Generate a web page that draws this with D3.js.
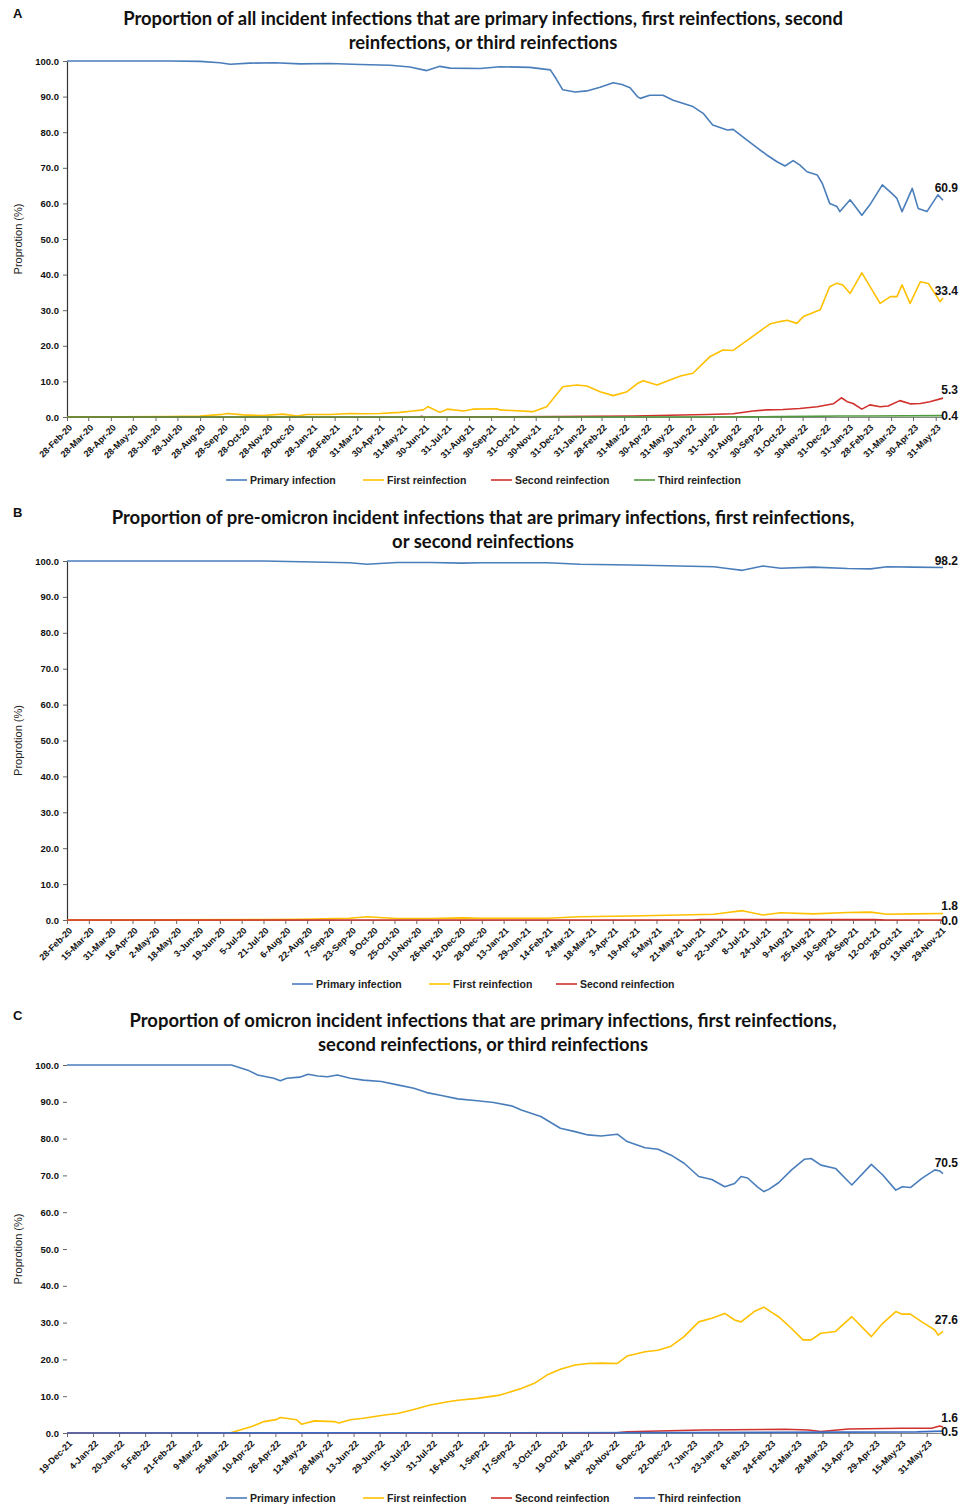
<!DOCTYPE html>
<html><head><meta charset="utf-8">
<script src="https://cdn.jsdelivr.net/npm/d3@7"></script>
<style>body{margin:0;background:#fff}svg{display:block}</style>
</head><body><svg id="chart" width="959" height="1507"></svg>
<script>
// ---------------- DATA ----------------
const seriesNames = ["Primary infection","First reinfection","Second reinfection","Third reinfection"];
const yTickValues = [0,10,20,30,40,50,60,70,80,90,100];

const titleA = ["Proportion of all incident infections that are primary infections, first reinfections, second","reinfections, or third reinfections"];
const titleB = ["Proportion of pre-omicron incident infections that are primary infections, first reinfections,","or second reinfections"];
const titleC = ["Proportion of omicron incident infections that are primary infections, first reinfections,","second reinfections, or third reinfections"];

const A_ticks = ["28-Feb-20","28-Mar-20","28-Apr-20","28-May-20","28-Jun-20","28-Jul-20","28-Aug-20","28-Sep-20","28-Oct-20","28-Nov-20","28-Dec-20","28-Jan-21","28-Feb-21","31-Mar-21","30-Apr-21","31-May-21","30-Jun-21","31-Jul-21","31-Aug-21","30-Sep-21","31-Oct-21","30-Nov-21","31-Dec-21","31-Jan-22","28-Feb-22","31-Mar-22","30-Apr-22","31-May-22","30-Jun-22","31-Jul-22","31-Aug-22","30-Sep-22","31-Oct-22","30-Nov-22","31-Dec-22","31-Jan-23","28-Feb-23","31-Mar-23","30-Apr-23","31-May-23"];
const B_ticks = ["28-Feb-20","15-Mar-20","31-Mar-20","16-Apr-20","2-May-20","18-May-20","3-Jun-20","19-Jun-20","5-Jul-20","21-Jul-20","6-Aug-20","22-Aug-20","7-Sep-20","23-Sep-20","9-Oct-20","25-Oct-20","10-Nov-20","26-Nov-20","12-Dec-20","28-Dec-20","13-Jan-21","29-Jan-21","14-Feb-21","2-Mar-21","18-Mar-21","3-Apr-21","19-Apr-21","5-May-21","21-May-21","6-Jun-21","22-Jun-21","8-Jul-21","24-Jul-21","9-Aug-21","25-Aug-21","10-Sep-21","26-Sep-21","12-Oct-21","28-Oct-21","13-Nov-21","29-Nov-21"];
const C_ticks = ["19-Dec-21","4-Jan-22","20-Jan-22","5-Feb-22","21-Feb-22","9-Mar-22","25-Mar-22","10-Apr-22","26-Apr-22","12-May-22","28-May-22","13-Jun-22","29-Jun-22","15-Jul-22","31-Jul-22","16-Aug-22","1-Sep-22","17-Sep-22","3-Oct-22","19-Oct-22","4-Nov-22","20-Nov-22","6-Dec-22","22-Dec-22","7-Jan-23","23-Jan-23","8-Feb-23","24-Feb-23","12-Mar-23","28-Mar-23","13-Apr-23","29-Apr-23","15-May-23","31-May-23"];

const A_range = ["2020-02-28","2023-06-10"];
const B_range = ["2020-02-28","2021-12-01"];
const C_range = ["2021-12-19","2023-06-10"];

// Panel A
const A_primary = [["2020-02-28",100],["2020-07-18",100],["2020-08-28",99.9],["2020-09-24",99.5],["2020-10-08",99.1],["2020-11-04",99.4],["2020-12-08",99.5],["2021-01-12",99.2],["2021-02-22",99.3],["2021-04-04",99.0],["2021-05-15",98.8],["2021-06-11",98.3],["2021-07-04",97.3],["2021-07-22",98.5],["2021-08-05",98.0],["2021-09-15",97.9],["2021-10-12",98.4],["2021-11-22",98.2],["2021-12-20",97.5],["2021-12-28",95.0],["2022-01-06",91.9],["2022-01-23",91.3],["2022-02-08",91.6],["2022-02-26",92.6],["2022-03-16",93.9],["2022-03-28",93.4],["2022-04-08",92.5],["2022-04-18",90.0],["2022-04-22",89.5],["2022-05-05",90.4],["2022-05-23",90.4],["2022-06-06",89.0],["2022-06-19",88.1],["2022-07-03",87.2],["2022-07-17",85.3],["2022-07-30",82.0],["2022-08-19",80.6],["2022-08-27",80.8],["2022-09-15",77.8],["2022-10-12",73.6],["2022-10-26",71.7],["2022-11-06",70.5],["2022-11-17",72.0],["2022-11-26",70.8],["2022-12-06",68.9],["2022-12-20",68.0],["2022-12-27",65.6],["2023-01-06",60.0],["2023-01-16",59.1],["2023-01-20",57.7],["2023-02-03",61.0],["2023-02-10",59.1],["2023-02-19",56.7],["2023-03-02",59.6],["2023-03-19",65.2],["2023-04-01",62.8],["2023-04-08",61.4],["2023-04-15",57.7],["2023-04-29",64.2],["2023-05-07",58.6],["2023-05-19",57.7],["2023-06-03",62.4],["2023-06-10",60.9]];
const A_first = [["2020-02-28",0],["2020-07-15",0.1],["2020-08-28",0.3],["2020-09-28",0.75],["2020-10-05",1.0],["2020-10-26",0.6],["2020-11-22",0.4],["2020-12-19",0.8],["2021-01-08",0.3],["2021-01-21",0.7],["2021-02-22",0.7],["2021-03-21",1.0],["2021-04-08",0.9],["2021-05-01",1.0],["2021-05-28",1.3],["2021-06-15",1.7],["2021-06-29",2.0],["2021-07-06",2.9],["2021-07-22",1.3],["2021-08-01",2.2],["2021-08-23",1.7],["2021-09-05",2.2],["2021-10-08",2.3],["2021-10-12",2.0],["2021-11-26",1.5],["2021-12-15",2.9],["2022-01-06",8.5],["2022-01-25",9.0],["2022-02-08",8.7],["2022-02-26",7.1],["2022-03-16",6.0],["2022-04-04",7.1],["2022-04-18",9.4],["2022-04-26",10.2],["2022-05-15",9.0],["2022-05-29",10.1],["2022-06-16",11.5],["2022-07-03",12.3],["2022-07-26",16.9],["2022-08-13",18.8],["2022-08-27",18.7],["2022-09-19",22.1],["2022-10-16",26.1],["2022-10-30",26.8],["2022-11-09",27.2],["2022-11-22",26.3],["2022-12-01",28.2],["2022-12-14",29.3],["2022-12-24",30.1],["2023-01-06",36.6],["2023-01-16",37.6],["2023-01-24",37.1],["2023-02-03",34.7],["2023-02-19",40.5],["2023-03-16",31.9],["2023-03-30",33.8],["2023-04-08",33.8],["2023-04-15",37.1],["2023-04-26",31.9],["2023-05-10",38.0],["2023-05-21",37.5],["2023-06-06",32.4],["2023-06-10",33.4]];
const A_second = [["2020-02-28",0],["2021-06-24",0],["2021-06-27",0.2],["2021-06-30",0],["2021-12-29",0.1],["2022-04-12",0.3],["2022-07-22",0.7],["2022-08-27",0.9],["2022-09-23",1.7],["2022-10-12",2.0],["2022-11-03",2.1],["2022-11-26",2.4],["2022-12-20",2.9],["2023-01-11",3.7],["2023-01-22",5.4],["2023-01-30",4.3],["2023-02-07",3.8],["2023-02-19",2.2],["2023-03-02",3.4],["2023-03-16",2.9],["2023-03-27",3.1],["2023-04-12",4.6],["2023-04-26",3.7],["2023-05-10",3.8],["2023-05-23",4.3],["2023-06-10",5.3]];
const A_third = [["2020-02-28",0],["2022-03-01",0],["2022-11-01",0.1],["2023-01-20",0.3],["2023-03-01",0.3],["2023-06-10",0.4]];

// Panel B
const B_primary = [["2020-02-28",100],["2020-07-21",100],["2020-08-17",99.8],["2020-09-22",99.5],["2020-10-05",99.1],["2020-10-14",99.3],["2020-10-27",99.6],["2020-11-20",99.6],["2020-12-14",99.4],["2020-12-27",99.5],["2021-02-14",99.5],["2021-03-10",99.1],["2021-04-16",98.9],["2021-05-22",98.6],["2021-06-16",98.4],["2021-06-26",97.9],["2021-07-07",97.4],["2021-07-22",98.6],["2021-08-04",98.0],["2021-08-28",98.3],["2021-09-22",97.9],["2021-10-09",97.8],["2021-10-21",98.4],["2021-11-09",98.3],["2021-12-01",98.2]];
const B_first = [["2020-02-28",0],["2020-07-21",0.1],["2020-08-17",0.2],["2020-09-22",0.5],["2020-10-05",0.9],["2020-10-14",0.7],["2020-10-27",0.4],["2020-11-20",0.4],["2020-12-14",0.6],["2020-12-27",0.5],["2021-02-14",0.5],["2021-03-10",0.9],["2021-04-16",1.1],["2021-05-22",1.4],["2021-06-16",1.6],["2021-06-26",2.1],["2021-07-07",2.6],["2021-07-22",1.4],["2021-08-04",2.0],["2021-08-28",1.7],["2021-09-22",2.1],["2021-10-09",2.2],["2021-10-21",1.6],["2021-11-09",1.7],["2021-12-01",1.8]];
const B_second = [["2020-02-28",0],["2021-06-01",0],["2021-06-06",0.1],["2021-10-12",0.1],["2021-10-20",0],["2021-12-01",0]];

// Panel C
const C_primary = [["2021-12-19",100],["2022-03-30",100],["2022-04-09",98.6],["2022-04-15",97.3],["2022-04-25",96.4],["2022-04-29",95.7],["2022-05-03",96.4],["2022-05-11",96.7],["2022-05-16",97.5],["2022-05-22",97.0],["2022-05-28",96.8],["2022-06-03",97.3],["2022-06-11",96.4],["2022-06-19",95.9],["2022-06-30",95.5],["2022-07-10",94.6],["2022-07-20",93.7],["2022-07-28",92.5],["2022-08-06",91.7],["2022-08-16",90.8],["2022-08-28",90.3],["2022-09-07",89.8],["2022-09-18",88.9],["2022-09-24",87.8],["2022-10-06",86.0],["2022-10-18",82.8],["2022-10-27",81.9],["2022-11-04",81.0],["2022-11-12",80.7],["2022-11-22",81.2],["2022-11-28",79.2],["2022-12-09",77.5],["2022-12-17",77.1],["2022-12-25",75.5],["2023-01-02",73.3],["2023-01-11",69.7],["2023-01-19",68.9],["2023-01-27",66.9],["2023-02-02",67.8],["2023-02-06",69.7],["2023-02-10",69.3],["2023-02-16",66.9],["2023-02-20",65.6],["2023-02-23",66.2],["2023-03-01",68.0],["2023-03-09",71.5],["2023-03-17",74.4],["2023-03-21",74.6],["2023-03-27",72.8],["2023-04-05",71.9],["2023-04-15",67.4],["2023-04-27",73.0],["2023-05-04",70.1],["2023-05-12",66.0],["2023-05-16",66.9],["2023-05-21",66.7],["2023-05-28",69.2],["2023-06-05",71.5],["2023-06-08",71.2],["2023-06-10",70.5]];
const C_first = [["2021-12-19",0],["2022-03-29",0],["2022-04-11",1.7],["2022-04-19",3.1],["2022-04-27",3.7],["2022-04-29",4.2],["2022-05-09",3.6],["2022-05-12",2.4],["2022-05-20",3.3],["2022-06-01",3.1],["2022-06-04",2.7],["2022-06-11",3.6],["2022-06-19",4.0],["2022-07-02",4.9],["2022-07-10",5.3],["2022-07-20",6.4],["2022-07-30",7.6],["2022-08-10",8.5],["2022-08-16",8.9],["2022-08-28",9.4],["2022-09-11",10.3],["2022-09-24",12.1],["2022-10-02",13.5],["2022-10-10",15.8],["2022-10-18",17.3],["2022-10-27",18.5],["2022-11-04",18.9],["2022-11-12",19.0],["2022-11-22",18.9],["2022-11-28",20.9],["2022-12-09",22.1],["2022-12-17",22.5],["2022-12-25",23.6],["2023-01-02",26.2],["2023-01-11",30.2],["2023-01-19",31.2],["2023-01-27",32.5],["2023-02-02",30.7],["2023-02-06",30.2],["2023-02-14",33.0],["2023-02-20",34.2],["2023-02-25",32.7],["2023-03-01",31.6],["2023-03-09",28.4],["2023-03-16",25.3],["2023-03-21",25.3],["2023-03-27",27.1],["2023-04-05",27.6],["2023-04-15",31.6],["2023-04-27",26.2],["2023-05-04",29.8],["2023-05-12",33.0],["2023-05-16",32.3],["2023-05-21",32.3],["2023-05-28",30.2],["2023-06-05",28.0],["2023-06-07",26.6],["2023-06-10",27.6]];
const C_second = [["2021-12-19",0],["2022-11-20",0],["2022-11-28",0.35],["2023-01-13",0.8],["2023-03-05",1.0],["2023-03-19",0.8],["2023-03-27",0.4],["2023-04-13",1.1],["2023-05-16",1.3],["2023-06-03",1.3],["2023-06-08",1.9],["2023-06-10",1.6]];
const C_third = [["2021-12-19",0],["2023-01-01",0.1],["2023-05-25",0.3],["2023-06-10",0.5]];

// ---------------- DRAWING ----------------
const colors = {primary:"#4a7ebb", first:"#ffc000", second:"#d0312d", thirdA:"#4f9a3c", thirdC:"#3d6cc4"};
const pDate = d3.timeParse("%Y-%m-%d");
const pTick = d3.timeParse("%d-%b-%y");
const svg = d3.select("#chart");
const sansFont = "'Liberation Sans', Arial, sans-serif";

const panels = [
  {letter:"A", title:titleA, titleW:[720,269], titleY:[19,43], top:61, bottom:417, range:A_range, ticks:A_ticks, yLine:true,
   series:[{d:A_primary,c:colors.primary,dy:-12},{d:A_first,c:colors.first,dy:-7},{d:A_second,c:colors.second,dy:-8},{d:A_third,c:colors.thirdA,dy:0}],
   names:[0,1,2,3], legendY:480, legendX:[226,363,491,634]},
  {letter:"B", title:titleB, titleW:[743,182], titleY:[518,542], top:561, bottom:920, range:B_range, ticks:B_ticks, yLine:true,
   series:[{d:B_primary,c:colors.primary,dy:-7},{d:B_first,c:colors.first,dy:-8},{d:B_second,c:colors.second,dy:1}],
   names:[0,1,2], legendY:984, legendX:[292,429,556]},
  {letter:"C", title:titleC, titleW:[708,330], titleY:[1021,1045], top:1065, bottom:1433, range:C_range, ticks:C_ticks, yLine:false,
   series:[{d:C_primary,c:colors.primary,dy:-11},{d:C_first,c:colors.first,dy:-12},{d:C_second,c:colors.second,dy:-9},{d:C_third,c:colors.thirdC,dy:1}],
   names:[0,1,2,3], legendY:1498, legendX:[226,363,491,634]}
];

const left = 67, right = 943, titleCX = 483;

panels.forEach(p => {
  const g = svg.append("g");
  const x = d3.scaleTime().domain(p.range.map(pDate)).range([left, right]);
  const y = d3.scaleLinear().domain([0,100]).range([p.bottom, p.top]);

  // panel letter
  g.append("text").attr("x", 13).attr("y", p.titleY[0] - 1).attr("font-family",sansFont)
    .attr("font-weight","bold").attr("font-size",13).attr("fill","#111").text(p.letter);

  // title (fit to target widths)
  p.title.forEach((t,i) => {
    const tx = g.append("text").attr("x", titleCX).attr("y", p.titleY[i]).attr("dy","0.35em")
      .attr("text-anchor","middle").attr("font-family","Lato, 'Open Sans', sans-serif").attr("font-weight","bold")
      .attr("font-size",18).attr("fill","#111").text(t);
    const w = tx.node().getComputedTextLength();
    tx.attr("font-size", 18 * p.titleW[i] / w);
  });

  // y-axis title
  g.append("text").attr("transform",`translate(22,${(p.top+p.bottom)/2}) rotate(-90)`)
    .attr("text-anchor","middle").attr("font-family",sansFont)
    .attr("font-size",11).attr("fill","#222").text("Proprotion (%)");

  // y axis
  const ya = g.append("g").attr("transform",`translate(${left},0)`)
    .call(d3.axisLeft(y).tickValues(yTickValues).tickSize(4).tickSizeOuter(0).tickFormat(d3.format(".1f")));
  ya.selectAll("text").attr("font-family",sansFont).attr("font-weight","bold")
    .attr("font-size",9.5).attr("fill","#111").attr("x",-8);
  ya.selectAll(".tick line").attr("stroke","#666");
  if (p.yLine) ya.select(".domain").attr("stroke","#333").attr("stroke-width",1.2);
  else ya.select(".domain").remove();

  // x axis
  const tickDates = p.ticks.map(pTick);
  const xa = g.append("g").attr("transform",`translate(0,${p.bottom})`)
    .call(d3.axisBottom(x).tickValues(tickDates).tickSize(4).tickSizeOuter(0).tickFormat((d,i)=>p.ticks[i]));
  xa.select(".domain").attr("stroke","#888");
  xa.selectAll(".tick line").attr("stroke","#666");
  xa.selectAll(".tick text").attr("font-family",sansFont).attr("font-weight","bold")
    .attr("font-size",9).attr("fill","#111").attr("text-anchor","end")
    .attr("y",0).attr("dy","0.35em").attr("transform","translate(3,9) rotate(-45)");

  // lines
  const line = d3.line().x(d=>x(pDate(d[0]))).y(d=>y(d[1]));
  p.series.forEach(s => {
    g.append("path").datum(s.d).attr("fill","none").attr("stroke",s.c).attr("stroke-width",1.6)
      .attr("stroke-linejoin","round").attr("d",line);
  });
  // end labels
  p.series.forEach(s => {
    const last = s.d[s.d.length-1];
    g.append("text").attr("x", x(pDate(last[0])) + 15).attr("y", y(last[1]) + s.dy).attr("dy","0.35em")
      .attr("text-anchor","end").attr("font-family",sansFont).attr("font-weight","bold")
      .attr("font-size",12).attr("fill","#111").text(d3.format(".1f")(last[1]));
  });

  // legend
  p.names.forEach((ni,k) => {
    const lx = p.legendX[k];
    g.append("line").attr("x1",lx).attr("x2",lx+21).attr("y1",p.legendY).attr("y2",p.legendY)
      .attr("stroke",p.series[k].c).attr("stroke-width",1.6);
    g.append("text").attr("x",lx+24).attr("y",p.legendY).attr("dy","0.35em")
      .attr("font-family",sansFont).attr("font-size",10.5).attr("font-weight","bold")
      .attr("fill","#222").text(seriesNames[ni]);
  });
});
</script></body></html>
